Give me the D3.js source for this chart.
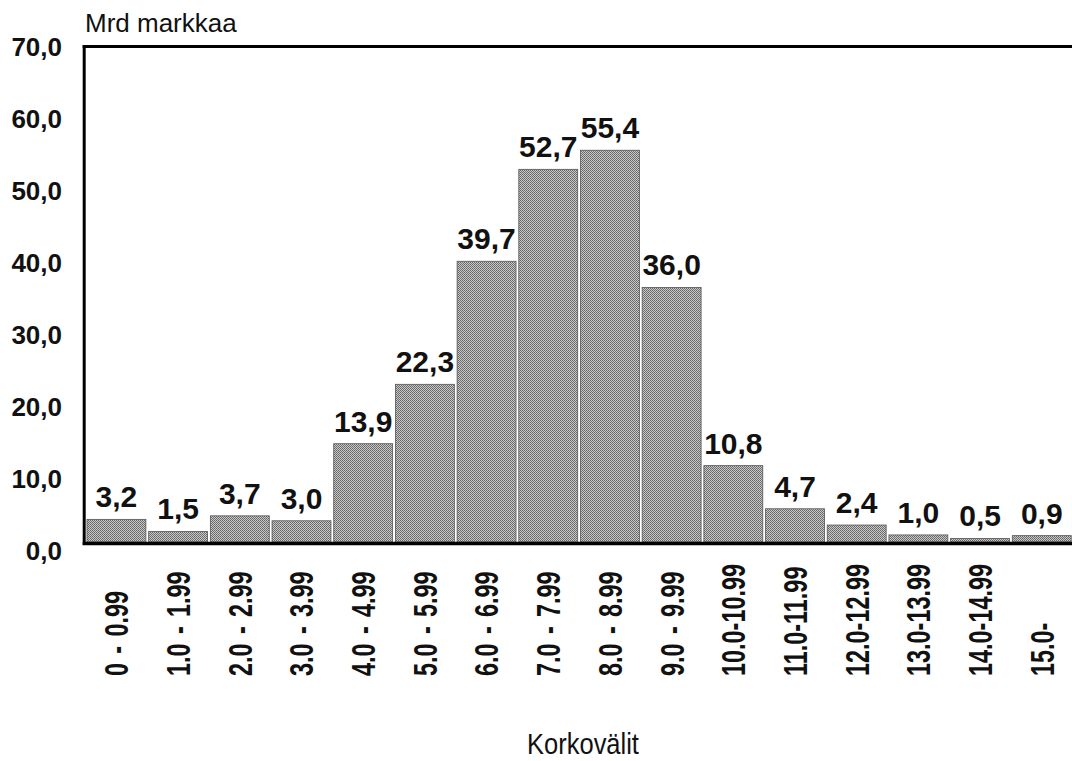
<!DOCTYPE html>
<html>
<head>
<meta charset="utf-8">
<script src="https://cdn.jsdelivr.net/npm/d3@7"></script>
<style>
  body { margin: 0; background: #fff; }
  text { font-family: "Liberation Sans", Arial, sans-serif; fill: #111; }
</style>
</head>
<body>
<div id="chart"></div>
<script>
// interest rate bands (Korkovälit) and amounts in billions of marks
var categories = ["0 - 0.99", "1.0 - 1.99", "2.0 - 2.99", "3.0 - 3.99", "4.0 - 4.99",
    "5.0 - 5.99", "6.0 - 6.99", "7.0 - 7.99", "8.0 - 8.99", "9.0 - 9.99",
    "10.0-10.99", "11.0-11.99", "12.0-12.99", "13.0-13.99", "14.0-14.99", "15.0-"];
var values = [3.2, 1.5, 3.7, 3.0, 13.9, 22.3, 39.7, 52.7, 55.4, 36.0, 10.8, 4.7, 2.4, 1.0, 0.5, 0.9];
var yTicks = [0, 10, 20, 30, 40, 50, 60, 70];

var width = 1072, height = 761;

var svg = d3.select("#chart")
    .append("svg")
    .attr("width", width)
    .attr("height", height);

// halftone-ish grey like the scanned original
var pat = svg.append("defs").append("pattern")
    .attr("id", "dither")
    .attr("patternUnits", "userSpaceOnUse")
    .attr("width", 2)
    .attr("height", 2);
pat.append("rect").attr("width", 2).attr("height", 2).attr("fill", "#c8c8c8");
pat.append("rect").attr("x", 0).attr("y", 0).attr("width", 1).attr("height", 1).attr("fill", "#666");
pat.append("rect").attr("x", 1).attr("y", 1).attr("width", 1).attr("height", 1).attr("fill", "#727272");

let x = d3.scaleBand()
    .domain(categories)
    .range([84.2, 1074])
    .paddingInner(0.045)
    .paddingOuter(0.045);

let y = d3.scaleLinear()
    .domain([0, 70])
    .range([542, 47]);

// tick labels in the original sit on a slightly wider spacing than the bars
let yLab = d3.scaleLinear()
    .domain([0, 70])
    .range([551, 47]);

var fmt = v => d3.format(".1f")(v).replace(".", ",");

// bars
svg.selectAll("rect.bar")
    .data(values)
    .enter()
    .append("rect")
    .attr("class", "bar")
    .attr("x", (d, i) => x(categories[i]))
    .attr("y", d => y(d))
    .attr("width", x.bandwidth())
    .attr("height", d => y(0) - y(d))
    .attr("fill", "url(#dither)")
    .attr("stroke", "#555")
    .attr("stroke-width", 0.8);

// value labels
svg.selectAll("text.val")
    .data(values)
    .enter()
    .append("text")
    .attr("class", "val")
    .attr("x", (d, i) => x(categories[i]) + x.bandwidth() / 2)
    .attr("y", d => y(d) - 12)
    .attr("text-anchor", "middle")
    .style("font-size", "30px")
    .style("font-weight", "bold")
    .text(d => fmt(d));

// frame: left, top, bottom
var x0 = x.range()[0], x1 = width;
svg.append("line")
    .attr("x1", x0).attr("x2", x0)
    .attr("y1", y(70) - 2).attr("y2", y(0) + 3)
    .attr("stroke", "#000").attr("stroke-width", 3);
svg.append("line")
    .attr("x1", x0 - 1.5).attr("x2", x1)
    .attr("y1", y(70) - 0.5).attr("y2", y(70) - 0.5)
    .attr("stroke", "#000").attr("stroke-width", 3);
svg.append("line")
    .attr("x1", x0 - 1.5).attr("x2", x1)
    .attr("y1", y(0) + 1.5).attr("y2", y(0) + 1.5)
    .attr("stroke", "#000").attr("stroke-width", 3.5);

// y tick labels
svg.selectAll("text.ytick")
    .data(yTicks)
    .enter()
    .append("text")
    .attr("class", "ytick")
    .attr("x", 62)
    .attr("y", d => yLab(d))
    .attr("dy", "0.36em")
    .attr("text-anchor", "end")
    .style("font-size", "26px")
    .style("font-weight", "bold")
    .text(d => fmt(d));

// x category labels, rotated
svg.selectAll("text.xcat")
    .data(categories)
    .enter()
    .append("text")
    .attr("class", "xcat")
    .attr("transform", d => `translate(${x(d) + x.bandwidth() / 2}, 676) rotate(-90) scale(0.71, 1)`)
    .attr("dy", "0.36em")
    .attr("text-anchor", "start")
    .style("font-size", "33px")
    .style("font-weight", "bold")
    .style("word-spacing", "4px")
    .text(d => d);

// unit label
svg.append("text")
    .attr("x", 85)
    .attr("y", 32)
    .style("font-size", "26px")
    .text("Mrd markkaa");

// axis title
svg.append("text")
    .attr("transform", "translate(583, 754) scale(0.85, 1)")
    .attr("text-anchor", "middle")
    .style("font-size", "30px")
    .text("Korkovälit");
</script>
</body>
</html>
